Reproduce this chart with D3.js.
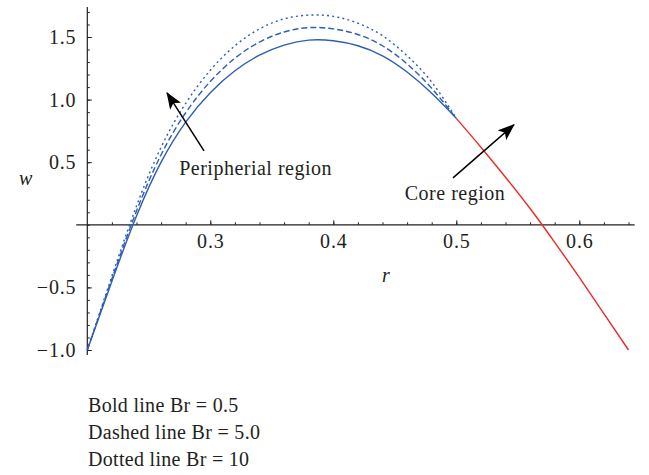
<!DOCTYPE html>
<html>
<head>
<meta charset="utf-8">
<script src="https://cdn.jsdelivr.net/npm/d3@7"></script>
<style>
  body { margin: 0; background: #fff; }
  svg text { font-family: "Liberation Serif", "DejaVu Serif", serif; fill: #231f20; }
</style>
</head>
<body>
<svg id="chart" width="649" height="475"></svg>
<script>
// Velocity profile w(r): peripheral region for three Brinkman numbers, core region in red.
const rPeri = [0.20, 0.22, 0.24, 0.26, 0.28, 0.30, 0.32, 0.34, 0.36, 0.38, 0.40, 0.42, 0.44, 0.46, 0.48, 0.50];
const wBold   = [-1.00, -0.45, 0.07, 0.50, 0.82, 1.055, 1.23, 1.355, 1.435, 1.475, 1.47, 1.43, 1.35, 1.22, 1.05, 0.85];
const wDashed = [-1.00, -0.43, 0.11, 0.56, 0.895, 1.145, 1.33, 1.46, 1.54, 1.575, 1.565, 1.52, 1.43, 1.285, 1.09, 0.85];
const wDotted = [-1.00, -0.41, 0.15, 0.62, 0.97, 1.235, 1.43, 1.565, 1.645, 1.675, 1.665, 1.61, 1.51, 1.35, 1.14, 0.85];

const rCore = [0.50, 0.52, 0.54, 0.56, 0.58, 0.60, 0.62, 0.64];
const wCore = [0.85, 0.62, 0.38, 0.13, -0.14, -0.42, -0.71, -1.00];

const xMajor = [0.3, 0.4, 0.5, 0.6];
const yMajor = [-1.0, -0.5, 0.5, 1.0, 1.5];

const legendLines = ["Bold line Br = 0.5", "Dashed line Br = 5.0", "Dotted line Br = 10"];

// annotations, in data units: [label, text r, text w, arrow from r, w, arrow to r, w]
const notes = [
    ["Peripherial region", 0.2747, 0.40, 0.2949, 0.591, 0.2648, 1.054],
    ["Core region", 0.4581, 0.20, 0.4973, 0.375, 0.5469, 0.799]
];

const svg = d3.select("#chart");
const blue = "#2d5db4";
const red = "#ec2a26";
const ink = "#231f20";

const x = d3.scaleLinear().domain([0.2, 0.6]).range([87.3, 579.3]);
const y = d3.scaleLinear().domain([-1, 1.5]).range([350, 37]);

// Axes: ticks point inward, like the original.
const xAxisMinor = d3.axisBottom(x)
    .tickValues(d3.range(0.22, 0.645, 0.02))
    .tickSizeInner(-2.5).tickSizeOuter(0).tickFormat("");
const xAxis = d3.axisBottom(x)
    .tickValues(xMajor).tickSizeInner(-4.5).tickSizeOuter(0)
    .tickPadding(9).tickFormat(d3.format(".1f"));

const gx = svg.append("g").attr("transform", `translate(0,${y(0)})`);
gx.append("g").call(xAxisMinor);
gx.append("g").call(xAxis);
gx.selectAll(".domain").remove();
gx.append("line")
    .attr("x1", x(0.191)).attr("x2", x(0.645))
    .attr("stroke", ink).attr("stroke-width", 1.2);

const yAxisMinor = d3.axisLeft(y)
    .tickValues(d3.range(-10, 18).map(d => d / 10))
    .tickSizeInner(-2.5).tickSizeOuter(0).tickFormat("");
const yAxis = d3.axisLeft(y)
    .tickValues(yMajor).tickSizeInner(-4.5).tickSizeOuter(0)
    .tickPadding(11).tickFormat(d3.format(".1f"));

const gy = svg.append("g").attr("transform", `translate(${x(0.2)},0)`);
gy.append("g").call(yAxisMinor);
gy.append("g").call(yAxis);
gy.selectAll(".domain").remove();
gy.append("line")
    .attr("y1", y(1.74)).attr("y2", y(-1.04))
    .attr("stroke", ink).attr("stroke-width", 1.2);

svg.selectAll(".tick line").attr("stroke", ink).attr("stroke-width", 1);
svg.selectAll(".tick text")
    .attr("font-size", 20)
    .attr("letter-spacing", 0.8)
    .attr("font-family", "Liberation Serif, serif")
    .attr("fill", ink);

// Axis titles
svg.append("text").text("w")
    .attr("x", 19).attr("y", 185)
    .attr("font-size", 20).attr("font-style", "italic");
svg.append("text").text("r")
    .attr("x", 382).attr("y", 282)
    .attr("font-size", 20).attr("font-style", "italic");

// Curves
const line = d3.line()
    .x(d => x(d[0])).y(d => y(d[1]))
    .curve(d3.curveNatural);

const series = [
    { w: wDotted, dash: "2,3.2" },
    { w: wDashed, dash: "6,3" },
    { w: wBold, dash: null }
];
series.forEach(s => {
    svg.append("path")
        .datum(rPeri.map((r, i) => [r, s.w[i]]))
        .attr("d", line)
        .attr("fill", "none")
        .attr("stroke", blue)
        .attr("stroke-width", 1.4)
        .attr("stroke-dasharray", s.dash);
});

svg.append("path")
    .datum(rCore.map((r, i) => [r, wCore[i]]))
    .attr("d", line)
    .attr("fill", "none")
    .attr("stroke", red)
    .attr("stroke-width", 1.4);

// Arrows and region labels
svg.append("defs").append("marker")
    .attr("id", "head")
    .attr("viewBox", "0 0 17 13")
    .attr("refX", 16).attr("refY", 6.5)
    .attr("markerWidth", 17).attr("markerHeight", 13)
    .attr("markerUnits", "userSpaceOnUse")
    .attr("orient", "auto")
    .append("path")
    .attr("d", "M0,0 L17,6.5 L0,13 L4,6.5 Z")
    .attr("fill", "#000");

notes.forEach(n => {
    svg.append("line")
        .attr("x1", x(n[3])).attr("y1", y(n[4]))
        .attr("x2", x(n[5])).attr("y2", y(n[6]))
        .attr("stroke", "#000").attr("stroke-width", 1.5)
        .attr("marker-end", "url(#head)");
    svg.append("text").text(n[0])
        .attr("x", x(n[1])).attr("y", y(n[2]))
        .attr("font-size", 20)
        .attr("letter-spacing", 0.5);
});

// Legend text under the chart
svg.selectAll(".legend")
    .data(legendLines)
    .join("text")
    .attr("class", "legend")
    .attr("x", 88)
    .attr("y", (d, i) => 412 + i * 27)
    .attr("font-size", 20)
    .attr("letter-spacing", 0.3)
    .text(d => d);
</script>
</body>
</html>
